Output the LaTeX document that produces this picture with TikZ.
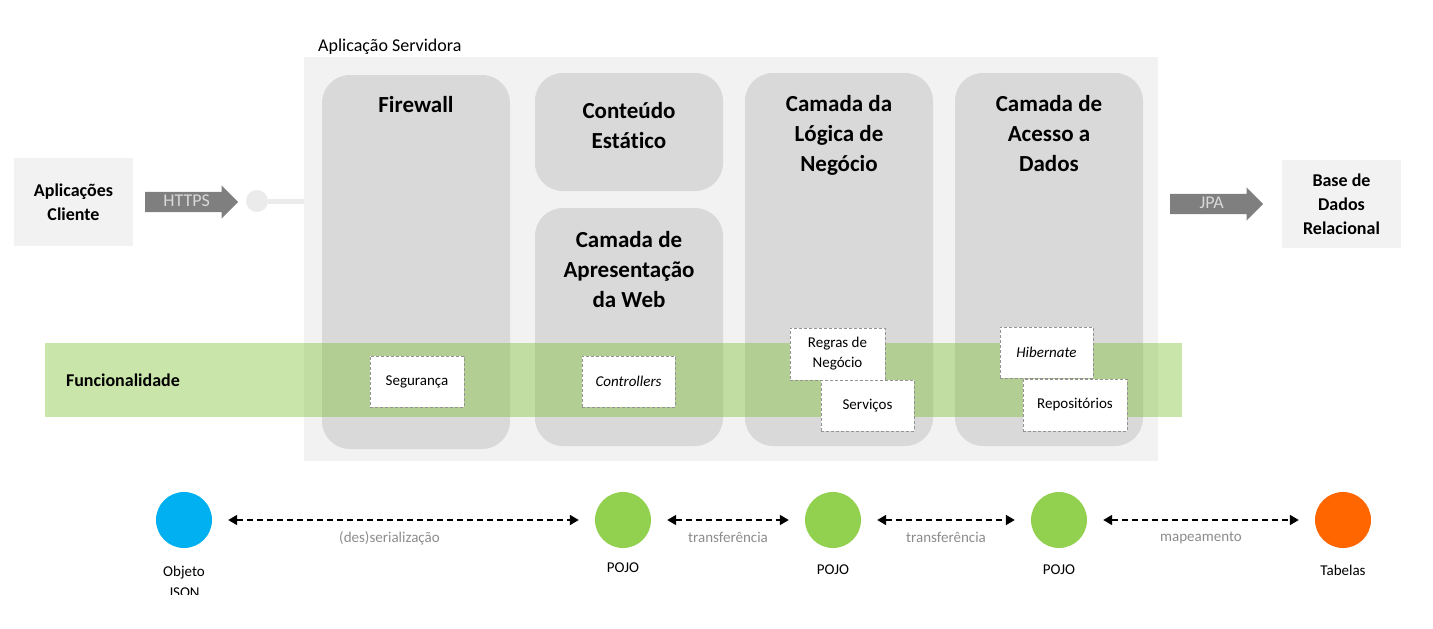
\documentclass[tikz,border=0pt]{standalone}
\usepackage{fontspec}
\setmainfont{Carlito}[Ligatures=NoCommon]
\usepackage{tikz}
\usetikzlibrary{positioning, shapes.arrows, arrows.meta}

\definecolor{boxgray}{HTML}{F2F2F2}
\definecolor{layergray}{HTML}{D9D9D9}
\definecolor{arrowgray}{HTML}{7F7F7F}
\definecolor{pluggray}{HTML}{EBEBEB}
\definecolor{bandgreen}{RGB}{120,190,40}
\definecolor{jsonblue}{HTML}{00B0F0}
\definecolor{pojogreen}{HTML}{92D050}
\definecolor{tableorange}{HTML}{FF6600}
\definecolor{flowgray}{HTML}{8C8C8C}

\begin{document}
\begin{tikzpicture}[x=1pt, y=-1pt,
            sidebox/.style={fill=boxgray, minimum width=119pt, minimum height=88pt, align=center, font=\fontsize{18}{24}\selectfont\bfseries},
            layer/.style={fill=layergray, rounded corners=28pt, minimum width=188pt},
            layertitle/.style={inner sep=0pt, align=center, font=\fontsize{23}{30}\selectfont\bfseries},
            feature/.style={fill=white, draw=gray!85, dashed, dash pattern=on 3pt off 2pt, line width=1pt, align=center, inner sep=0pt, font=\fontsize{15}{20}\selectfont},
            blockarrow/.style={single arrow, fill=arrowgray, text=layergray, font=\fontsize{18}{18}\selectfont, single arrow head extend=6.5pt, text height=13pt, text depth=4pt, inner ysep=1.5pt, minimum height=93pt, anchor=tail},
            dataobj/.style={circle, minimum size=56pt, inner sep=0pt},
            objlabel/.style={inner sep=0pt, align=center, font=\fontsize{15}{18}\selectfont},
            flow/.style={dash pattern=on 6pt off 4pt, line width=1.8pt, {Triangle[length=9pt,width=10pt]}-{Triangle[length=9pt,width=10pt]}, shorten <=16pt, shorten >=16pt},
            flowlabel/.style={inner sep=0pt, text=flowgray, font=\fontsize{15}{18}\selectfont}
        ]

        \path[use as bounding box] (0,0) rectangle (1433,629);

        % Servidor
        \node[fill=boxgray, minimum width=854pt, minimum height=404pt] (srv) at (731,259) {};
        \node[anchor=base west, inner sep=0pt, font=\fontsize{18}{20}\selectfont] (srvlabel) at (318,51) {Aplicação Servidora};

        % Camadas
        \node[layer, minimum height=374pt] (fw) at (416,262) {};
        \node[layer, minimum height=118pt] (static) at (629,132) {};
        \node[layer, minimum height=238pt] (web) at (629,327) {};
        \node[layer, minimum height=373pt] (logic) at (839,259.5) {};
        \node[layer, minimum height=373pt] (data) at (1049,259.5) {};

        \node[layertitle, below=21pt of fw.north] (fwtitle) {Firewall};
        \node[layertitle, below=29pt of static.north] (statictitle) {Conteúdo\\Estático};
        \node[layertitle, below=23pt of web.north] (webtitle) {Camada de\\Apresentação\\da Web};
        \node[layertitle, below=22pt of logic.north] (logictitle) {Camada da\\Lógica de\\Negócio};
        \node[layertitle, below=22pt of data.north] (datatitle) {Camada de\\Acesso a\\Dados};

        % Funcionalidade
        \node[fill=bandgreen, fill opacity=0.4, minimum width=1137pt, minimum height=74pt] (func) at (613.5,380) {};
        \node[anchor=west, inner sep=0pt, font=\fontsize{18}{20}\selectfont\bfseries, right=21pt of func.west] (functitle) {Funcionalidade};

        \node[feature, minimum width=94pt, minimum height=51pt] (sec) at (417,381.5) {Segurança};
        \node[feature, minimum width=93pt, minimum height=51pt] (ctrl) at (628.5,381.5) {\itshape Controllers};
        \node[feature, minimum width=95pt, minimum height=52pt] (rules) at (837.5,354) {Regras de\\Negócio};
        \node[feature, minimum width=93pt, minimum height=51pt] (svc) at (867.5,405.5) {Serviços};
        \node[feature, minimum width=93pt, minimum height=51pt] (hib) at (1046.5,352.5) {\itshape Hibernate};
        \node[feature, minimum width=104pt, minimum height=52pt] (repo) at (1075,405) {Repositórios};

        % Cliente e base de dados
        \node[sidebox] (client) at (73.5,202) {Aplicações\\Cliente};
        \node[blockarrow] (https) at (145,202) {HTTPS};
        \node[circle, fill=pluggray, minimum size=22pt, inner sep=0pt] (plug) at (257,201) {};
        \draw[pluggray, line width=5pt] (plug.east) -- (plug.east -| srv.west);

        \node[blockarrow] (jpa) at (1170,204) {JPA};
        \node[sidebox] (db) at (1341.5,204) {Base de\\Dados\\Relacional};

        % Objetos
        \node[dataobj, fill=jsonblue] (json) at (184,520) {};
        \node[dataobj, fill=pojogreen] (pojoa) at (623,520) {};
        \node[dataobj, fill=pojogreen] (pojob) at (833,520) {};
        \node[dataobj, fill=pojogreen] (pojoc) at (1059,520) {};
        \node[dataobj, fill=tableorange] (tables) at (1343,520) {};

        \begin{scope}
            \clip (0,0) rectangle (1433,594);
            \node[objlabel, font=\fontsize{15}{21}\selectfont, below=18pt of json] (jsonlabel) {Objeto\\JSON};
        \end{scope}
        \node[objlabel, below=14pt of pojoa] (pojoalabel) {POJO};
        \node[objlabel, below=16pt of pojob] (pojoblabel) {POJO};
        \node[objlabel, below=16pt of pojoc] (pojoclabel) {POJO};
        \node[objlabel, below=17pt of tables] (tableslabel) {Tabelas};

        % Setas
        \draw[flow] (json) -- (pojoa) node[flowlabel, midway, below=11pt, xshift=-14pt] {(des)serialização};
        \draw[flow] (pojoa) -- (pojob) node[flowlabel, midway, below=11pt] {transferência};
        \draw[flow] (pojob) -- (pojoc) node[flowlabel, midway, below=11pt] {transferência};
        \draw[flow] (pojoc) -- (tables) node[flowlabel, midway, below=11pt] {mapeamento};

    \end{tikzpicture}
\end{document}
